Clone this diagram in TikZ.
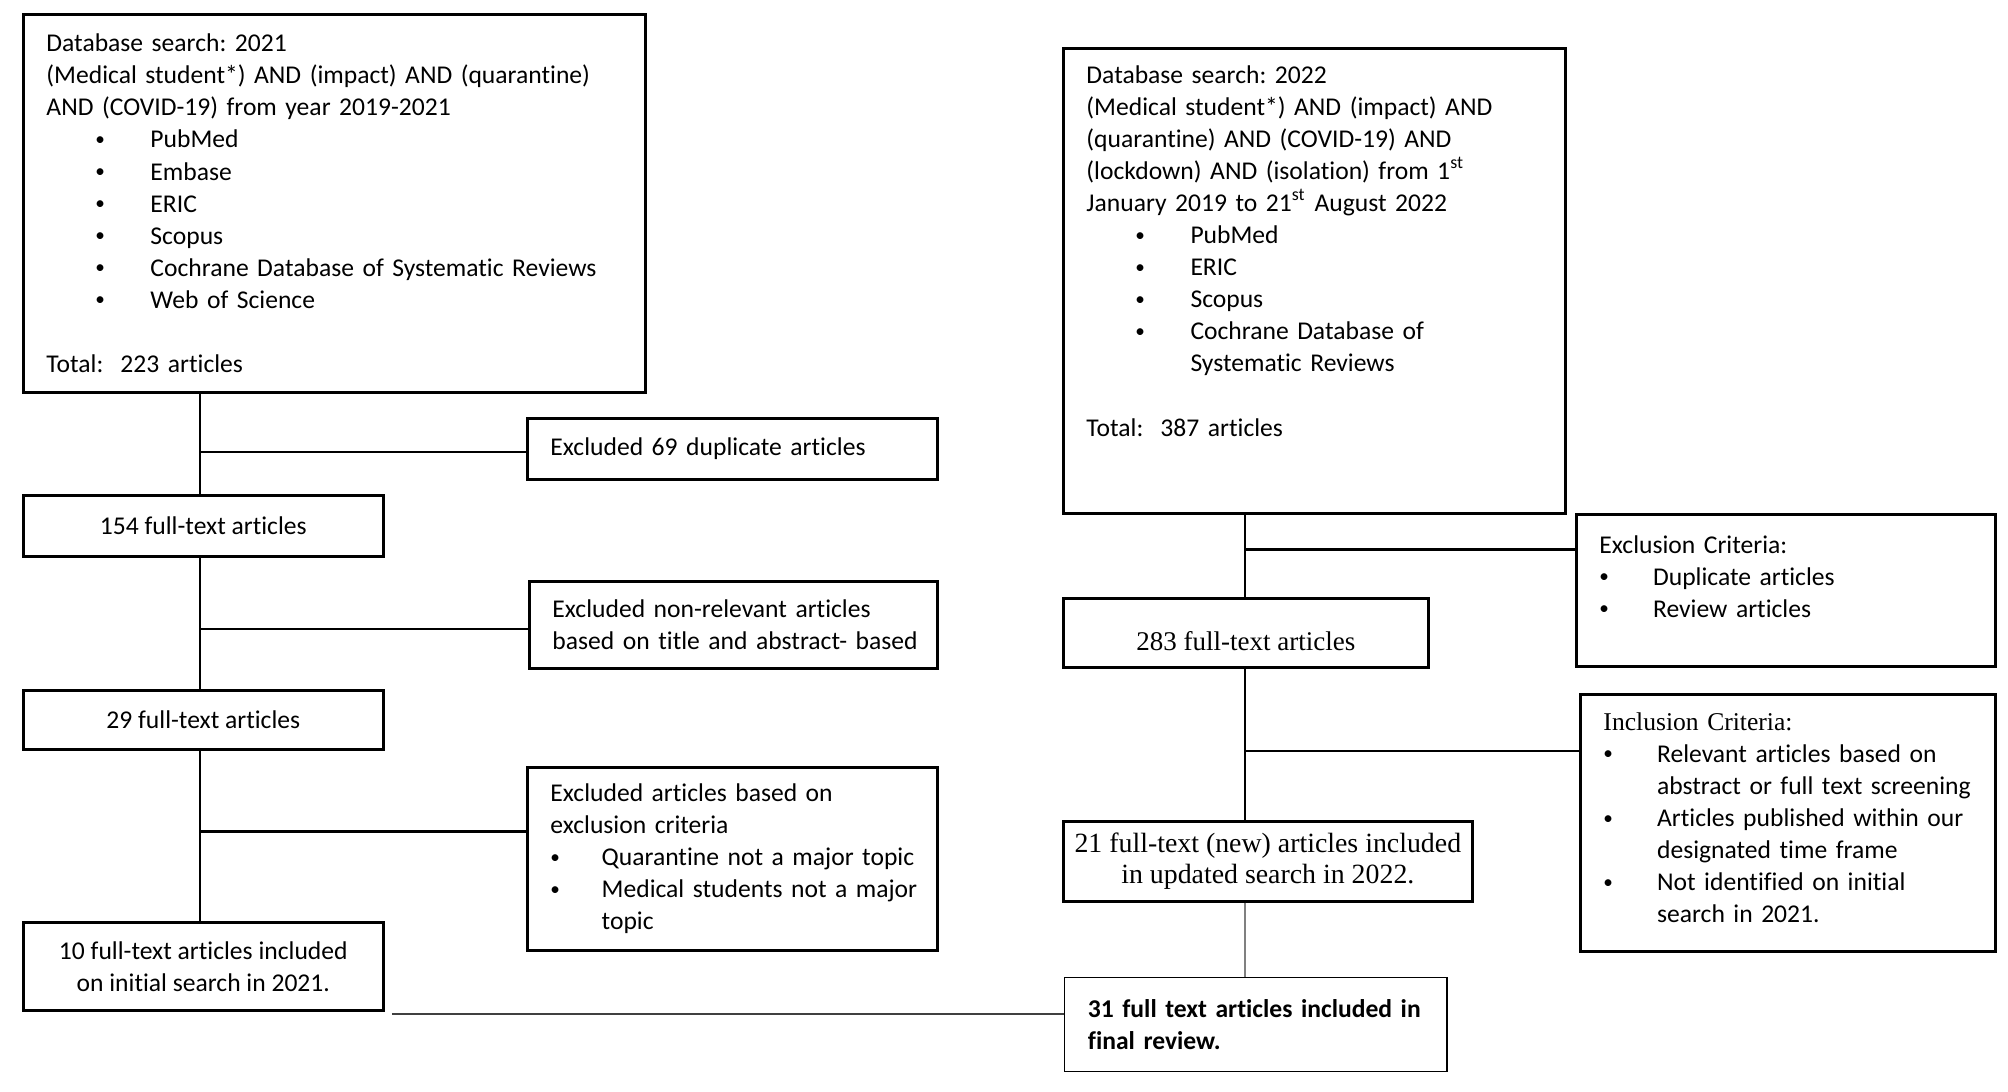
\documentclass[tikz,border=0pt]{standalone}
\usepackage{fontspec}
\setmainfont{Carlito}[Ligatures=NoCommon]
\newfontfamily\serifrm{Liberation Serif}
\usetikzlibrary{positioning}
\frenchspacing

% bullet with its indent, the gap up to the item text, and the text
\newcommand{\bitem}[3]{\hspace*{#1}\makebox[#2][l]{\raisebox{0.2ex}{\scalebox{0.75}{\textbullet}}}\mbox{#3}}

\begin{document}
\begin{tikzpicture}[x=0.0125cm,y=-0.0125cm,
	box/.style={draw,line width=0.9pt,anchor=north west,inner ysep=0pt,inner xsep=0.29cm,
		font=\fontsize{9.1}{11.4}\selectfont},
	serifbox/.style={box,inner xsep=0.1cm,font=\serifrm\fontsize{9.6}{11}\selectfont},
	trunk/.style={line width=0.9pt},
	thinline/.style={line width=0.5pt,color=black!75}]

\useasboundingbox (0,0) rectangle (2008,1091);

% left column: search of 2021
\node[box,align=left,minimum width=7.775cm,minimum height=4.725cm,text width=7.195cm] (db21) at (22,13)
	{Database search: 2021\\
	\mbox{(Medical student*) AND (impact) AND (quarantine)}\\
	AND (COVID-19) from year 2019-2021\\
	\bitem{0.61cm}{0.69cm}{PubMed}\\
	\bitem{0.61cm}{0.69cm}{Embase}\\
	\bitem{0.61cm}{0.69cm}{ERIC}\\
	\bitem{0.61cm}{0.69cm}{Scopus}\\
	\bitem{0.61cm}{0.69cm}{Cochrane Database of Systematic Reviews}\\
	\bitem{0.61cm}{0.69cm}{Web of Science}\\[11.4pt]
	Total:~~223 articles};

\node[box,align=left,minimum width=5.125cm,minimum height=0.7625cm,text width=4.545cm] (dup21) at (526,417)
	{Excluded 69 duplicate articles};
\node[box,align=center,minimum width=4.5cm,minimum height=0.7625cm] (ft154) at (22,494)
	{154 full-text articles};
\node[box,align=left,minimum width=5.1cm,minimum height=1.0875cm,text width=4.52cm] (title21) at (528,580)
	{\mbox{Excluded non-relevant articles}\\
	\mbox{based on title and abstract- based}};
\node[box,align=center,minimum width=4.5cm,minimum height=0.7375cm] (ft29) at (22,689)
	{29 full-text articles};
\node[box,align=left,minimum width=5.125cm,minimum height=2.2875cm,text width=4.545cm] (crit21) at (526,766)
	{\mbox{Excluded articles based on}\\
	exclusion criteria\\
	\bitem{0cm}{0.64cm}{Quarantine not a major topic}\\
	\bitem{0cm}{0.64cm}{Medical students not a major}\\
	\hspace*{0.64cm}topic};
\node[box,align=center,minimum width=4.5cm,minimum height=1.1cm] (ft10) at (22,921)
	{10 full-text articles included\\
	on initial search in 2021.};

% right column: search of 2022
\node[box,align=left,minimum width=6.275cm,minimum height=5.8125cm,text width=5.695cm] (db22) at (1062,47)
	{Database search: 2022\\
	\mbox{(Medical student*) AND (impact) AND}\\
	\mbox{(quarantine) AND (COVID-19) AND}\\
	\mbox{(lockdown) AND (isolation) from 1\textsuperscript{st}}\\
	\mbox{January 2019 to 21\textsuperscript{st} August 2022}\\
	\bitem{0.61cm}{0.69cm}{PubMed}\\
	\bitem{0.61cm}{0.69cm}{ERIC}\\
	\bitem{0.61cm}{0.69cm}{Scopus}\\
	\bitem{0.61cm}{0.69cm}{Cochrane Database of}\\
	\hspace*{1.3cm}Systematic Reviews\\[11.4pt]
	Total:~~387 articles\\[0.35cm]\mbox{}};

\node[box,align=left,minimum width=5.2375cm,minimum height=1.9cm,text width=4.6575cm] (excl22) at (1575,513)
	{Exclusion Criteria:\\
	\bitem{0cm}{0.67cm}{Duplicate articles}\\
	\bitem{0cm}{0.67cm}{Review articles}\\[-0.05cm]\mbox{}};
\node[serifbox,align=center,minimum width=4.5625cm,minimum height=0.8625cm,
	text height=0.52cm,text depth=0.07cm] (ft283) at (1062,597)
	{283 full-text articles};
\node[box,align=left,minimum width=5.1875cm,minimum height=3.2125cm,text width=4.6075cm] (incl22) at (1579,693)
	{{\serifrm Inclusion Criteria:}\\
	\bitem{0cm}{0.67cm}{Relevant articles based on}\\
	\hspace*{0.67cm}\mbox{abstract or full text screening}\\
	\bitem{0cm}{0.67cm}{Articles published within our}\\
	\hspace*{0.67cm}\mbox{designated time frame}\\
	\bitem{0cm}{0.67cm}{Not identified on initial}\\
	\hspace*{0.67cm}\mbox{search in 2021.}\\[-0.27cm]\mbox{}};
\node[serifbox,align=center,minimum width=5.1125cm,minimum height=1cm,
	font=\serifrm\fontsize{9.9}{11.2}\selectfont] (ft21) at (1062,820)
	{21 full-text (new) articles included\\
	in updated search in 2022.};

% final box
\node[box,line width=0.5pt,align=left,minimum width=4.775cm,minimum height=1.175cm,text width=4.195cm,
	font=\bfseries\fontsize{9.1}{11.4}\selectfont] (final) at (1064,977)
	{\mbox{31 full text articles included in}\\
	final review.};

% trunks
\coordinate (tl) at (200,0);
\coordinate (tr) at (1245,0);

\draw[trunk] (db21.south -| tl) -- (ft154.north -| tl);
\draw[trunk] (ft154.south -| tl) -- (ft29.north -| tl);
\draw[trunk] (ft29.south -| tl) -- (ft10.north -| tl);
\draw[trunk] ([yshift=-0.04cm]dup21.west -| tl) -- ([yshift=-0.04cm]dup21.west);
\draw[trunk] ([yshift=-0.05cm]title21.west -| tl) -- ([yshift=-0.05cm]title21.west);
\draw[trunk] ([yshift=0.34cm]crit21.west -| tl) -- ([yshift=0.34cm]crit21.west);

\draw[trunk] (db22.south -| tr) -- (ft283.north -| tr);
\draw[trunk] (ft283.south -| tr) -- (ft21.north -| tr);
\draw[trunk] ([yshift=0.51cm]excl22.west -| tr) -- ([yshift=0.51cm]excl22.west);
\draw[trunk] ([yshift=0.9cm]incl22.west -| tr) -- ([yshift=0.9cm]incl22.west);

% both searches join in the final box
\draw[thinline,line width=0.4pt,color=black!50] (ft21.south -| tr) -- (final.north -| tr);
\coordinate (join) at ([xshift=0.09cm,yshift=-0.03cm]ft10.south east);
\draw[thinline] (join) -- (join -| final.west);

\end{tikzpicture}
\end{document}
